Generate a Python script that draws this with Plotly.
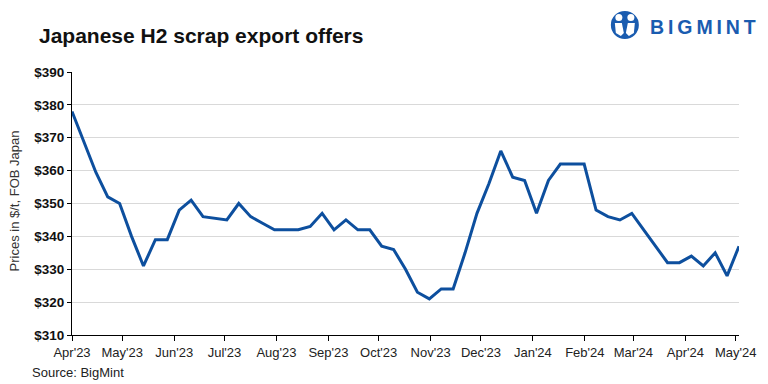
import pandas as pd
import plotly.graph_objects as go

# ---- data ----
prices = [378, 369, 359.5, 352, 350, 340, 331, 339, 339, 348, 351, 346, 345.5, 345,
          350, 346, 344, 342, 342, 342, 343, 347, 342, 345, 342, 342, 337, 336, 330,
          323, 321, 324, 324, 335, 347, 356, 366, 358, 357, 347, 357, 362, 362, 362,
          348, 346, 345, 347, 342, 337, 332, 332, 334, 331, 335, 328, 337]
dates = pd.date_range("2023-04-01", "2024-05-03", periods=len(prices))
y_ticks = [310, 320, 330, 340, 350, 360, 370, 380, 390]
y_tick_labels = [f"${v}" for v in y_ticks]
title_text = "Japanese H2 scrap export offers"
y_title = "Prices in $/t, FOB Japan"
source_text = "Source: BigMint"
brand_text = "\u2009".join("BIGMINT")

W, H = 768, 384
L, R, T, B = 72, 744, 72, 335


def px(x):
    return (x - L) / (R - L)


def py(y):
    return (B - y) / (B - T)


LINE = "#0d4f9e"
BRAND = "#1a5cb0"

fig = go.Figure()
fig.add_trace(go.Scatter(x=dates, y=prices, mode="lines",
                         line=dict(color=LINE, width=3), hoverinfo="x+y"))

fig.update_layout(
    width=W, height=H,
    margin=dict(l=L, r=W - R, t=T, b=H - B),
    paper_bgcolor="white", plot_bgcolor="white",
    showlegend=False,
    font=dict(family="Liberation Sans, Arial, sans-serif", color="#222"),
    xaxis=dict(
        type="date",
        range=[dates[0], dates[-1]],
        tick0="2023-04-01", dtick="M1", tickformat="%b'%y",
        showgrid=False, showline=True, linecolor="black", linewidth=1,
        ticks="outside", ticklen=5, tickcolor="black", tickwidth=1,
        tickfont=dict(size=13, color="#222"),
        zeroline=False,
    ),
    yaxis=dict(
        range=[310, 390],
        tickvals=y_ticks, ticktext=y_tick_labels,
        showgrid=True, gridcolor="#d9d9d9", gridwidth=1,
        showline=True, linecolor="black", linewidth=1,
        ticks="outside", ticklen=4, tickcolor="black", tickwidth=1,
        tickfont=dict(size=13.5, color="#111", weight="bold"),
        zeroline=False,
    ),
)

annotations = [
    dict(text=f"<b>{title_text}</b>", x=px(37), y=py(35), xref="paper", yref="paper",
         xanchor="left", yanchor="middle", showarrow=False,
         font=dict(size=21, color="#111")),
    dict(text=y_title, x=px(14), y=py(201), xref="paper", yref="paper",
         xanchor="center", yanchor="middle", textangle=-90, showarrow=False,
         font=dict(size=13, color="#333")),
    dict(text=source_text, x=px(30), y=py(372), xref="paper", yref="paper",
         xanchor="left", yanchor="middle", showarrow=False,
         font=dict(size=13, color="#222")),
    dict(text=f"<b>{brand_text}</b>", x=px(652), y=py(27), xref="paper", yref="paper",
         xanchor="left", yanchor="middle", showarrow=False,
         font=dict(size=19.5, color=BRAND, family="Liberation Sans, Arial, sans-serif")),
]
fig.update_layout(annotations=annotations)

# logo icon
cx, cy = px(629), py(25)
common = dict(xref="paper", yref="paper", xsizemode="pixel", ysizemode="pixel",
              xanchor=cx, yanchor=cy, layer="above")
shapes = [
    dict(type="circle", x0=-14, x1=14, y0=-14, y1=14, fillcolor=BRAND,
         line=dict(width=0), **common),
    dict(type="circle", x0=-9.5, x1=-2.5, y0=4, y1=11, fillcolor="white",
         line=dict(width=0), **common),
    dict(type="circle", x0=2.5, x1=9.5, y0=4, y1=11, fillcolor="white",
         line=dict(width=0), **common),
    dict(type="path", path="M -10 2 L -3 2 L -1 -8 L -4 -11 L -9 -8 Z", fillcolor="white",
         line=dict(width=0), **common),
    dict(type="path", path="M 3 2 L 10 2 L 9 -8 L 4 -11 L 1 -8 Z", fillcolor="white",
         line=dict(width=0), **common),
]
fig.update_layout(shapes=shapes)

fig.write_html("out.html", config={"displayModeBar": False},
               post_script="document.body.style.margin='0';document.body.style.padding='0';")
